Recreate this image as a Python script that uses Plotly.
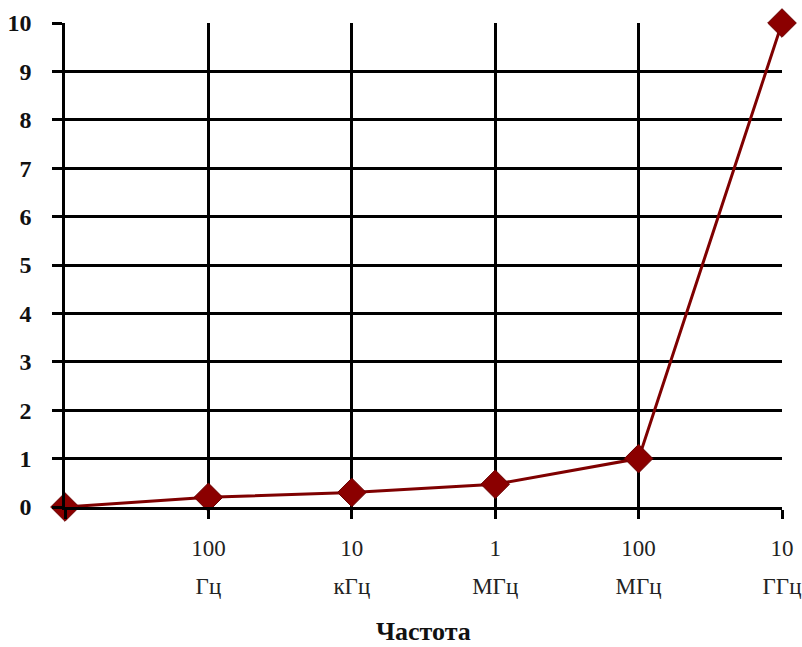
import plotly.graph_objects as go

numbers = ["", "100", "10", "1", "100", "10"]
units = ["", "Гц", "кГц", "МГц", "МГц", "ГГц"]
values = [0, 0.2, 0.3, 0.47, 1.0, 10]
y_ticks = list(range(0, 11))
x_title = "Частота"

xpos = list(range(len(numbers)))

fig = go.Figure()
fig.add_trace(go.Scatter(
    x=xpos, y=values, mode="lines+markers",
    line=dict(color="#7f0000", width=3),
    marker=dict(symbol="diamond", size=22, color="#8b0000",
                line=dict(color="#6a0000", width=1)),
    cliponaxis=False, showlegend=False, hoverinfo="x+y",
))
# invisible companion trace so the unit-label axis is drawn
fig.add_trace(go.Scatter(
    x=xpos, y=values, xaxis="x2", mode="markers",
    marker=dict(opacity=0), showlegend=False, hoverinfo="skip",
))

serif = "Liberation Serif, Times New Roman, serif"
fig.update_layout(
    width=802, height=647,
    margin=dict(l=65, r=20, t=23, b=140),
    paper_bgcolor="white", plot_bgcolor="white",
    font=dict(family=serif, color="#111"),
    xaxis=dict(
        range=[0, 5], tickmode="array", tickvals=xpos, ticktext=numbers,
        showgrid=True, gridcolor="black", gridwidth=2.5,
        zeroline=False, showline=True, linecolor="black", linewidth=2.5,
        ticks="outside", ticklen=9, tickwidth=2.5, tickcolor="black",
        tickfont=dict(family=serif, size=23, color="#222"),
        ticklabelstandoff=10, automargin=False,
    ),
    xaxis2=dict(
        overlaying="x", side="bottom", anchor="y",
        range=[0, 5], tickmode="array", tickvals=xpos, ticktext=units,
        showgrid=False, zeroline=False, showline=False, ticks="",
        tickfont=dict(family=serif, size=23, color="#222"),
        ticklabelstandoff=63, automargin=False,
    ),
    yaxis=dict(
        range=[0, 10], tickmode="array", tickvals=y_ticks,
        ticktext=[f"<b>{v}</b>" for v in y_ticks],
        showgrid=True, gridcolor="black", gridwidth=2.5,
        zeroline=False, showline=True, linecolor="black", linewidth=2.5,
        ticks="outside", ticklen=10, tickwidth=2.5, tickcolor="black",
        tickfont=dict(family=serif, size=24, color="#111"),
        ticklabelstandoff=16, automargin=False,
    ),
    annotations=[dict(
        text="<b>" + x_title + "</b>", xref="paper", yref="paper",
        x=0.5, y=-0.258, xanchor="center", yanchor="middle", showarrow=False,
        font=dict(family=serif, size=26, color="#111"),
    )],
)

fig.write_html("out.html", config={"displayModeBar": False},
               post_script="document.body.style.margin='0px';")
